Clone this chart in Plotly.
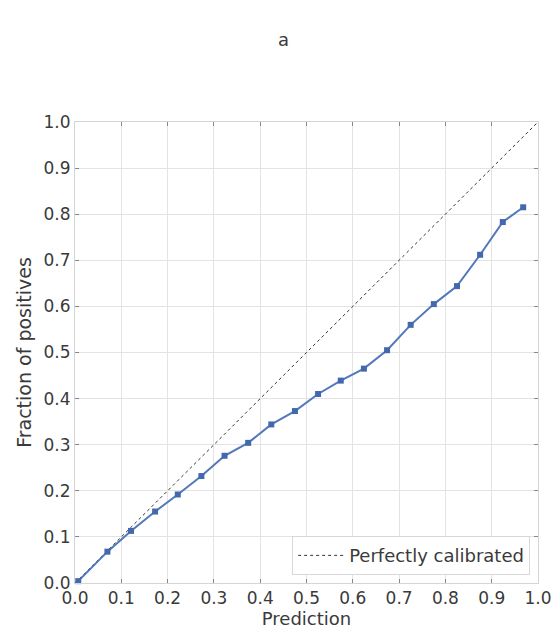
import plotly.graph_objects as go

pred = [0.007, 0.070, 0.121, 0.173, 0.222, 0.273, 0.323, 0.374, 0.424, 0.475,
        0.525, 0.574, 0.624, 0.674, 0.725, 0.775, 0.825, 0.875, 0.924, 0.968]
frac = [0.004, 0.068, 0.113, 0.155, 0.192, 0.232, 0.276, 0.304, 0.344, 0.373,
        0.410, 0.439, 0.465, 0.505, 0.560, 0.605, 0.644, 0.712, 0.783, 0.815]
diag = [0.0, 1.0]
ticks = [0.0, 0.1, 0.2, 0.3, 0.4, 0.5, 0.6, 0.7, 0.8, 0.9, 1.0]
tick_text = ["%.1f" % t for t in ticks]

font = "DejaVu Sans"
fig = go.Figure()
fig.add_trace(go.Scatter(x=diag, y=diag, mode="lines", name="Perfectly calibrated",
                         line=dict(color="#333333", width=1, dash="dot"),
                         showlegend=True))
fig.add_trace(go.Scatter(x=pred, y=frac, mode="lines+markers", showlegend=False,
                         line=dict(color="#5278ba", width=2),
                         marker=dict(symbol="square", size=6, color="#4468ad"),
                         cliponaxis=False))

axis_common = dict(range=[0, 1], tickvals=ticks, ticktext=tick_text,
                   showgrid=True, gridcolor="#e3e3e3", gridwidth=1,
                   showline=True, linecolor="#d5d5d5", linewidth=1, mirror="ticks",
                   ticks="inside", ticklen=4, tickcolor="#888888", zeroline=False,
                   automargin=False,
                   tickfont=dict(family=font, size=17, color="#3a3a3a"))

fig.update_layout(
    width=556, height=637,
    margin=dict(l=75, r=18, t=122, b=54, autoexpand=False),
    paper_bgcolor="white", plot_bgcolor="white",
    font=dict(family=font, color="#3a3a3a"),
    title=dict(text="a", x=0.51, xanchor="center", y=1 - 40 / 637, yanchor="middle",
               font=dict(family=font, size=18, color="#3a3a3a")),
    xaxis=dict(**axis_common, title=dict(text="Prediction", standoff=4,
                                         font=dict(family=font, size=18))),
    yaxis=dict(**axis_common, title=dict(text="Fraction of positives", standoff=6,
                                         font=dict(family=font, size=19))),
    legend=dict(x=0.983, xanchor="right", y=0.017, yanchor="bottom",
                bgcolor="white", bordercolor="#d8d8d8", borderwidth=1,
                itemwidth=46,
                font=dict(family=font, size=18, color="#3a3a3a")),
)

fig.write_html("out.html")
